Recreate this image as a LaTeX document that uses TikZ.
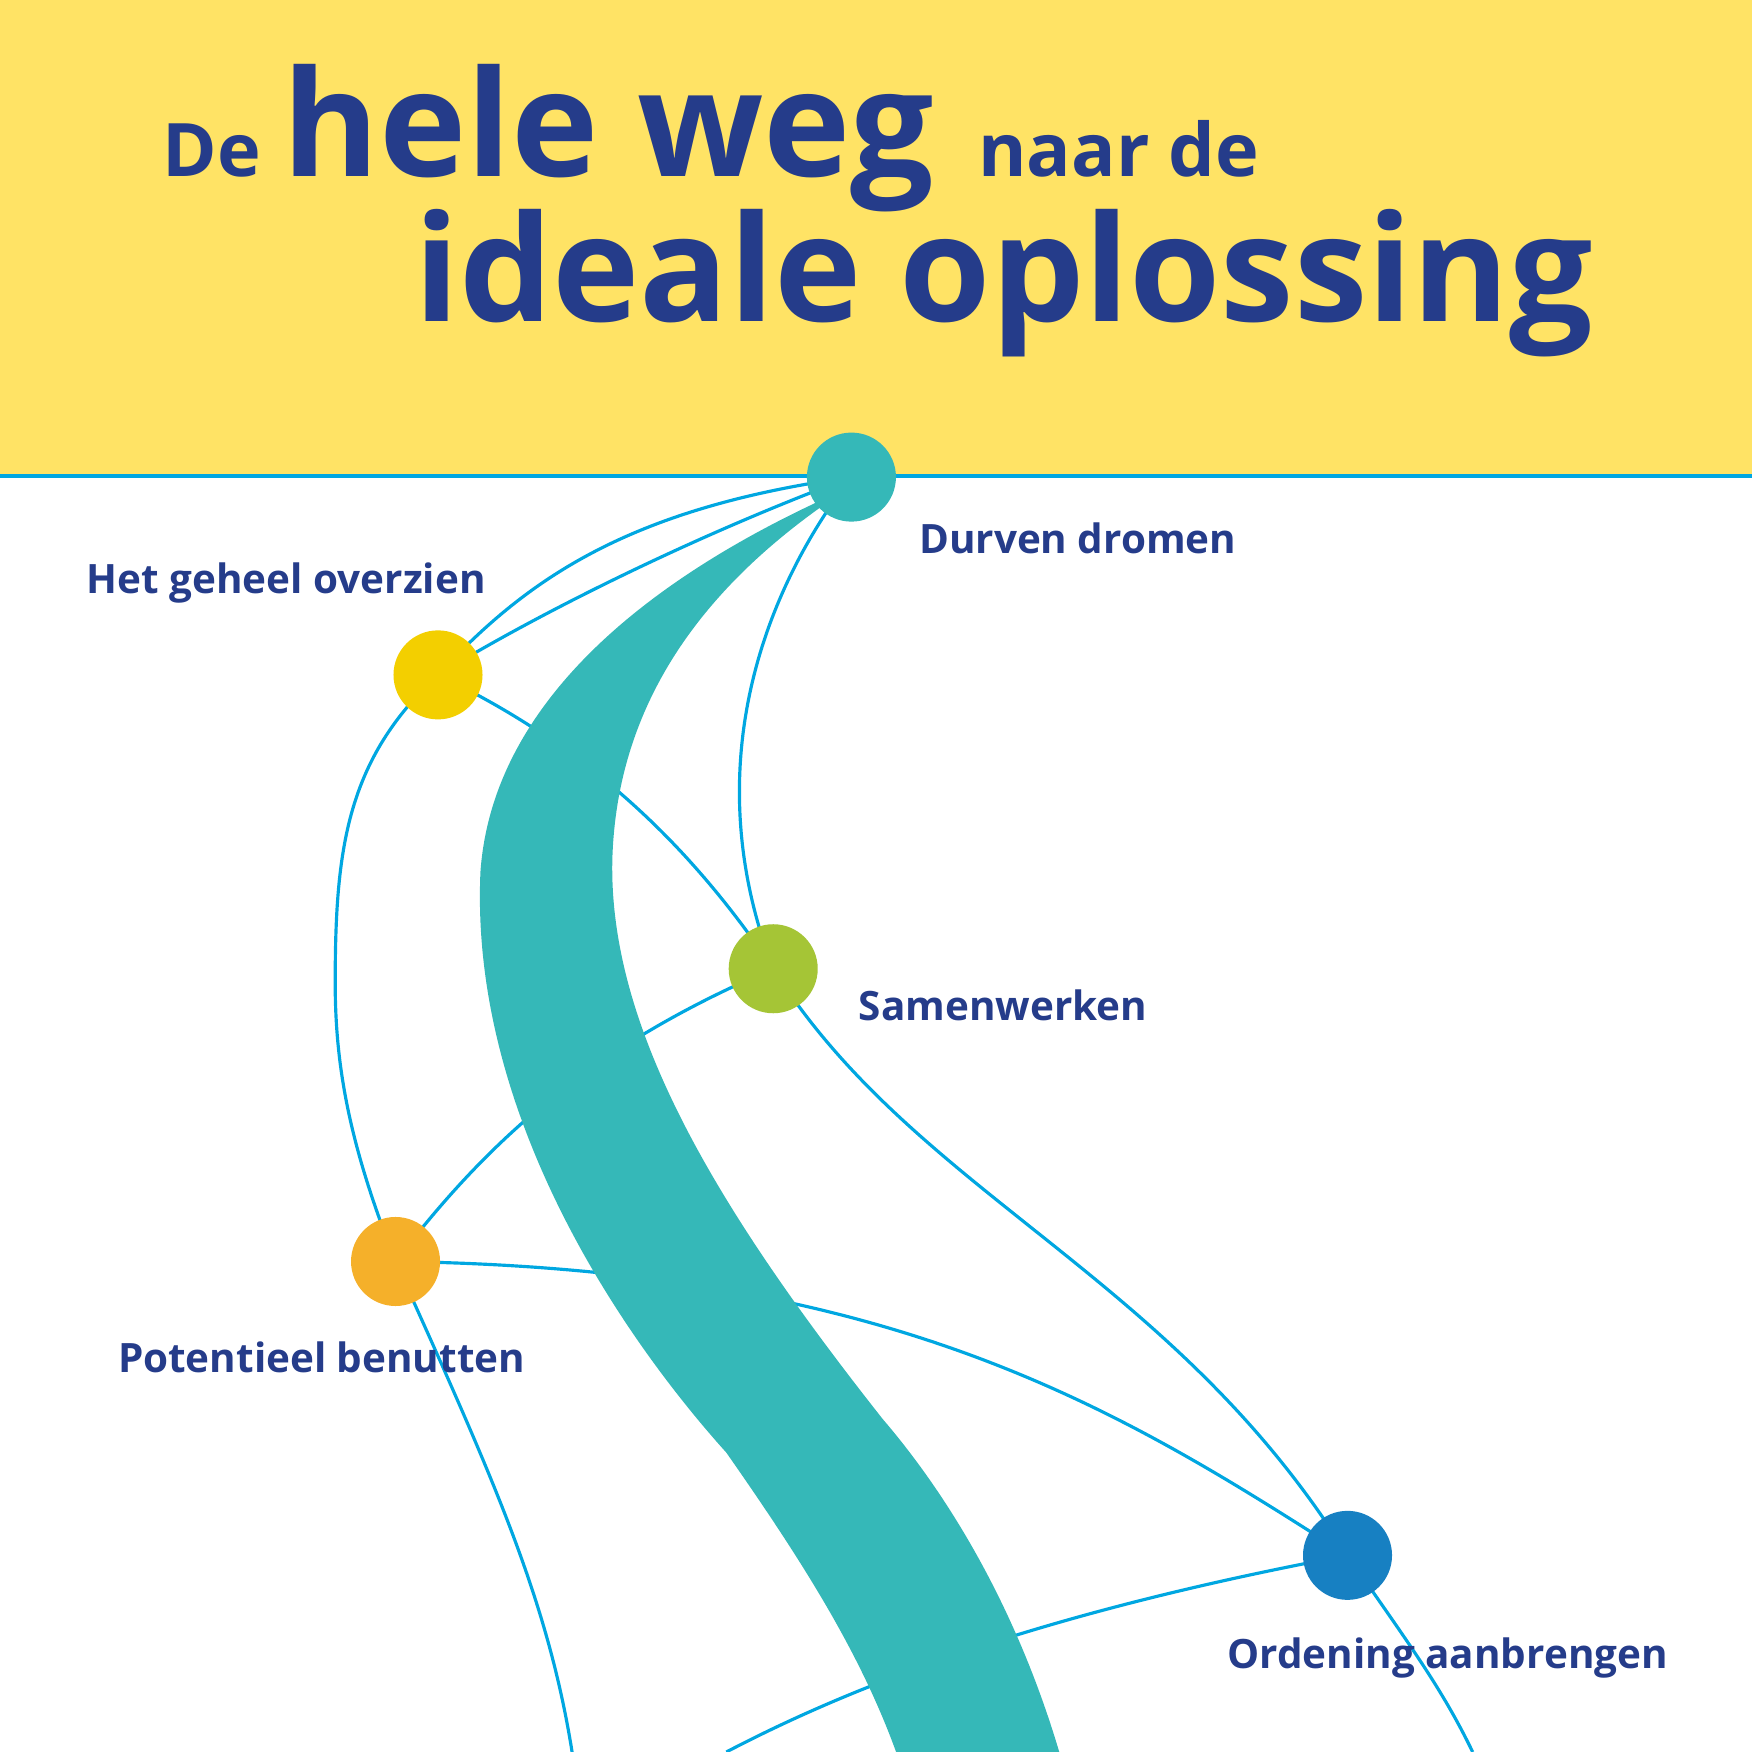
\documentclass[tikz,border=0pt]{standalone}
\usepackage{fontspec}
\setmainfont{Open Sans}
\definecolor{ink}{HTML}{253C8A}
\definecolor{sky}{HTML}{00A7E1}
\definecolor{teal}{HTML}{35B8B8}
\definecolor{band}{HTML}{FFE365}
\tikzset{
  stop/.style={circle, minimum size=0.89cm, inner sep=0pt},
  lbl/.style={text=ink, font=\fontsize{11.5}{13}\selectfont\bfseries, anchor=base west, inner sep=0pt},
  wire/.style={sky, line width=0.9pt},
}
\begin{document}
\begin{tikzpicture}[x=0.011173cm, y=-0.011173cm]
  \useasboundingbox (0,0) rectangle (1568,1568);
  \fill[band] (0,0) rectangle (1568,426);
  \draw[sky, line width=1.2pt] (0,426) -- (1568,426);
  % title
  \node[lbl, font=\fontsize{21}{24}\selectfont\bfseries] (de) at (145,158) {De};
  \node[lbl, font=\fontsize{42}{48}\selectfont\bfseries] (hele) at (252,158) {hele weg};
  \node[lbl, font=\fontsize{21}{24}\selectfont\bfseries] (naar) at (875,158) {naar de};
  \node[lbl, font=\fontsize{42}{48}\selectfont\bfseries] (ideaal) at (370,288) {ideale oplossing};
  % stops
  \coordinate (durven) at (762,427);
  \coordinate (geheel) at (392,604);
  \coordinate (samen) at (692,867);
  \coordinate (pot) at (354,1129);
  \coordinate (orde) at (1206,1392);
  \coordinate (endA) at (512,1568);
  \coordinate (endB) at (650,1568);
  \coordinate (endC) at (1318,1568);
  % wires
  \draw[wire] (durven) .. controls (560,455) and (470,520) .. (geheel);
  \draw[wire] (durven) .. controls (620,480) and (480,550) .. (geheel);
  \draw[wire] (geheel) .. controls (310,680) and (300,760) .. (300,880) .. controls (300,960) and (315,1030) .. (pot);
  \draw[wire] (geheel) .. controls (530,670) and (620,760) .. (samen);
  \draw[wire] (durven) .. controls (690,520) and (620,680) .. (samen);
  \draw[wire] (samen) .. controls (520,940) and (430,1030) .. (pot);
  \draw[wire] (samen) .. controls (820,1070) and (1050,1140) .. (orde);
  \draw[wire] (pot) .. controls (800,1135) and (1000,1260) .. (orde);
  \draw[wire] (pot) .. controls (440,1320) and (490,1430) .. (endA);
  \draw[wire] (orde) .. controls (950,1440) and (780,1500) .. (endB);
  \draw[wire] (orde) .. controls (1260,1470) and (1290,1510) .. (endC);
  % main road
  \fill[teal] (730,450) .. controls (560,530) and (440,640) .. (430,780)
    .. controls (420,1000) and (560,1200) .. (650,1300)
    .. controls (720,1400) and (770,1480) .. (802,1568)
    -- (948,1568) .. controls (910,1440) and (850,1340) .. (790,1270)
    .. controls (640,1080) and (545,920) .. (548,770)
    .. controls (552,620) and (640,520) .. (740,450) -- cycle;
  \node[stop, fill=teal] (n1) at (durven) {};
  \node[stop, fill={rgb,255:red,243;green,207;blue,0}] (n2) at (geheel) {};
  \node[stop, fill={rgb,255:red,165;green,197;blue,54}] (n3) at (samen) {};
  \node[stop, fill={rgb,255:red,245;green,176;blue,42}] (n4) at (pot) {};
  \node[stop, fill={rgb,255:red,23;green,128;blue,194}] (n5) at (orde) {};
  % labels
  \node[lbl] (t1) at (822,495) {Durven dromen};
  \node[lbl] (t2) at (77,531) {Het geheel overzien};
  \node[lbl] (t3) at (768,913) {Samenwerken};
  \node[lbl] (t4) at (105,1228) {Potentieel benutten};
  \node[lbl] (t5) at (1098,1493) {Ordening aanbrengen};
\end{tikzpicture}
\end{document}
